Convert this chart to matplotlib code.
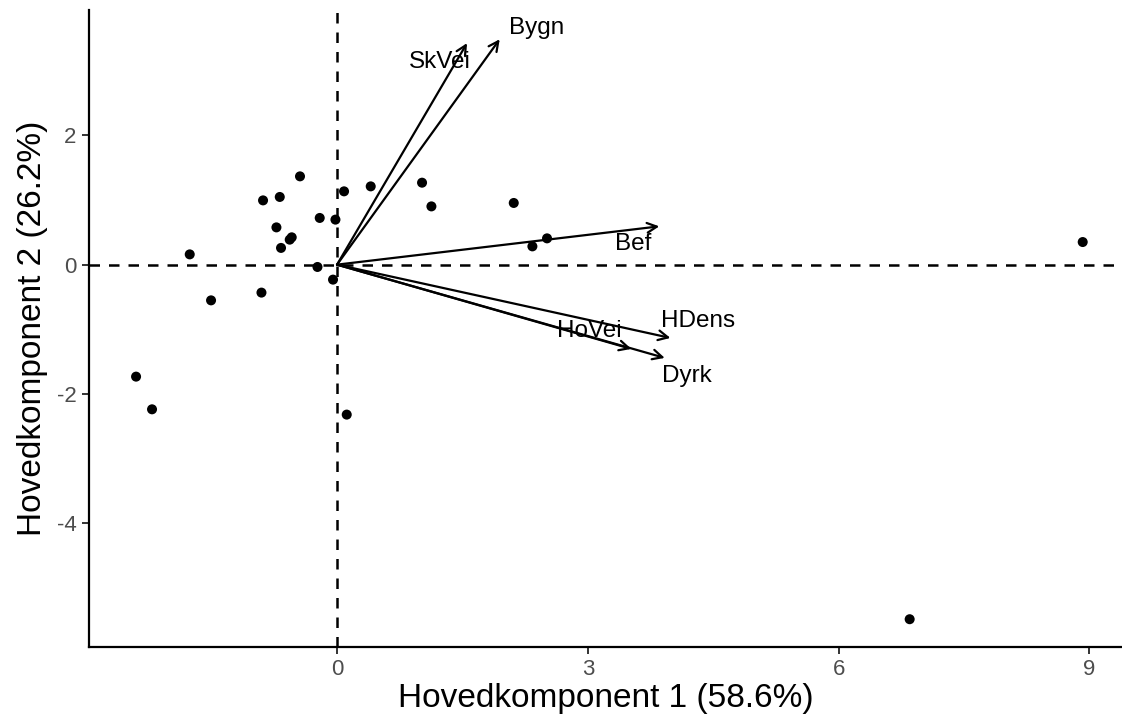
import numpy as np
import matplotlib
matplotlib.use("Agg")
import matplotlib.pyplot as plt

plt.rcParams['font.family'] = ['Liberation Sans', 'DejaVu Sans']
plt.rcParams['axes.unicode_minus'] = False

# PCA scores (observations)
pc1 = [-0.443, 0.084, -0.885, -0.685, -0.207, -0.019, -0.725, -0.566, -0.542,
       -0.670, -1.762, -0.234, -0.048, -0.904, -1.507, -2.404, -2.213, 0.116,
       0.403, 1.017, 1.129, 2.114, 2.337, 2.512, 8.92, 6.85]
pc2 = [1.367, 1.135, 0.995, 1.048, 0.723, 0.697, 0.577, 0.387, 0.423,
       0.259, 0.159, -0.036, -0.232, -0.433, -0.553, -1.734, -2.240, -2.322,
       1.212, 1.269, 0.902, 0.955, 0.283, 0.407, 0.35, -5.49]

# variable loadings (arrows)
var_names = ["Bygn", "SkVei", "Bef", "HDens", "HoVei", "Dyrk"]
load_x = [1.946, 1.555, 3.855, 3.988, 3.521, 3.920]
load_y = [3.49, 3.43, 0.593, -1.135, -1.305, -1.444]

# label positions
lab_x = [2.385, 1.228, 3.537, 4.318, 3.023, 4.180]
lab_y = [3.66, 3.13, 0.325, -0.877, -1.03, -1.718]

xlab = "Hovedkomponent 1 (58.6%)"
ylab = "Hovedkomponent 2 (26.2%)"

fig = plt.figure(figsize=(11.22, 7.22), dpi=100)
ax = fig.add_axes([0.0791, 0.1039, 0.9209, 0.882])

ax.axhline(0, color="black", lw=1.8, ls=(0, (4.2, 3.6)), zorder=1)
ax.axvline(0, color="black", lw=1.8, ls=(0, (4.2, 3.6)), zorder=1)

ax.scatter(pc1, pc2, s=52, color="black", edgecolors="none", zorder=3)

for name, x, y, tx, ty in zip(var_names, load_x, load_y, lab_x, lab_y):
    ax.annotate("", xy=(x, y), xytext=(0, 0),
                arrowprops=dict(arrowstyle="->,head_length=0.7,head_width=0.35",
                                color="black", lw=1.6, shrinkA=0, shrinkB=0),
                zorder=2)
    ax.text(tx, ty, name, fontsize=17.5, ha="center", va="center", color="black", zorder=4)

ax.set_xlim(-2.97, 9.39)
ax.set_ylim(-5.92, 3.94)
ax.set_xticks([0, 3, 6, 9])
ax.set_yticks([-4, -2, 0, 2])

for s in ["top", "right"]:
    ax.spines[s].set_visible(False)
for s in ["left", "bottom"]:
    ax.spines[s].set_linewidth(1.6)
    ax.spines[s].set_color("black")

ax.tick_params(axis="both", length=5, width=1.4, color="#333333",
               labelcolor="#4D4D4D", labelsize=16, pad=4)

ax.set_xlabel(xlab, fontsize=24, labelpad=2)
ax.set_ylabel(ylab, fontsize=24, labelpad=6)

fig.savefig("out.png", dpi=100)
